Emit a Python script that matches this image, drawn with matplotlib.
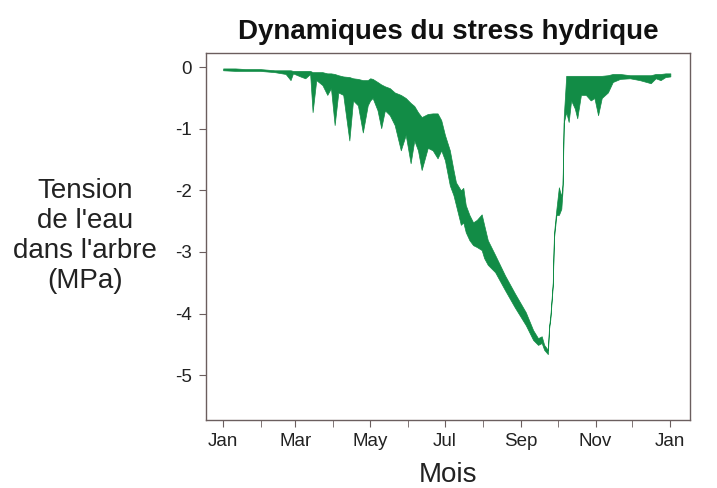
import numpy as np
import matplotlib.pyplot as plt

# day of year, daily max (upper) and min (lower) water tension, MPa
days = [0, 10, 18, 30, 42, 51, 55, 57, 63, 67, 71, 73, 76, 81, 85, 88, 91, 94, 98,
        103, 106, 110, 114, 118, 120, 122, 126, 129, 132, 136, 140, 145, 149, 153,
        156, 159, 162, 167, 171, 175, 178, 181, 185, 188, 190, 194, 196, 198, 201,
        204, 207, 211, 213, 216, 222, 230, 238, 247, 253, 257, 260, 262, 265, 266,
        267, 269, 270, 272, 274, 276, 277, 278, 280, 282, 284, 287, 289, 292, 296,
        300, 303, 306, 309, 314, 318, 324, 332, 340, 349, 353, 357, 361, 365]
upper = [-0.02, -0.02, -0.03, -0.03, -0.05, -0.05, -0.05, -0.06, -0.06, -0.06, -0.06,
         -0.08, -0.08, -0.08, -0.10, -0.10, -0.11, -0.13, -0.15, -0.16, -0.18, -0.19,
         -0.21, -0.21, -0.18, -0.19, -0.24, -0.28, -0.31, -0.34, -0.41, -0.45, -0.50,
         -0.58, -0.63, -0.73, -0.81, -0.76, -0.75, -0.75, -0.86, -1.10, -1.35, -1.67,
         -1.87, -2.00, -1.96, -2.24, -2.40, -2.52, -2.48, -2.39, -2.56, -2.81, -3.05,
         -3.38, -3.67, -3.98, -4.27, -4.40, -4.37, -4.51, -4.59, -4.20, -4.05, -3.50,
         -2.70, -2.30, -1.95, -2.10, -1.90, -0.80, -0.14, -0.14, -0.14, -0.14, -0.14,
         -0.14, -0.14, -0.14, -0.14, -0.14, -0.14, -0.13, -0.11, -0.11, -0.13, -0.13,
         -0.13, -0.11, -0.11, -0.10, -0.10]
lower = [-0.05, -0.06, -0.06, -0.06, -0.08, -0.11, -0.21, -0.10, -0.15, -0.18, -0.11,
         -0.73, -0.21, -0.29, -0.45, -0.34, -0.94, -0.41, -0.45, -1.19, -0.54, -0.62,
         -1.06, -0.62, -0.54, -0.50, -0.70, -0.99, -0.70, -0.78, -0.94, -1.35, -1.10,
         -1.56, -1.19, -1.35, -1.67, -1.31, -1.35, -1.48, -1.35, -1.51, -1.92, -2.08,
         -2.24, -2.56, -2.52, -2.68, -2.81, -2.89, -2.92, -2.97, -3.10, -3.21, -3.33,
         -3.62, -3.90, -4.19, -4.43, -4.51, -4.48, -4.59, -4.66, -4.25, -4.10, -3.56,
         -2.78, -2.40, -2.40, -2.30, -2.00, -0.90, -0.73, -0.89, -0.54, -0.67, -0.83,
         -0.45, -0.45, -0.54, -0.50, -0.78, -0.50, -0.41, -0.24, -0.19, -0.18, -0.21,
         -0.26, -0.18, -0.21, -0.16, -0.15]

month_ticks = [0, 59, 120, 181, 243, 304, 365]
month_labels = ['Jan', 'Mar', 'May', 'Jul', 'Sep', 'Nov', 'Jan']
minor_ticks = [31, 90, 151, 212, 273, 334]
y_ticks = [0, -1, -2, -3, -4, -5]

plt.rcParams['font.family'] = ['Liberation Sans', 'DejaVu Sans']

fig = plt.figure(figsize=(7.17, 4.88), dpi=100)
ax = fig.add_axes([0.2873, 0.1393, 0.675, 0.752])

green = '#128c46'
ax.fill_between(days, lower, upper, color=green, linewidth=0.5, edgecolor=green)

ax.set_xlim(-14, 381)
ax.set_ylim(-5.73, 0.23)
ax.set_xticks(month_ticks)
ax.set_xticklabels(month_labels)
ax.set_xticks(minor_ticks, minor=True)
ax.set_yticks(y_ticks)
ax.set_yticklabels([str(v) for v in y_ticks])

for s in ax.spines.values():
    s.set_color('#6b5e5e')
    s.set_linewidth(1.0)
ax.tick_params(axis='both', which='both', direction='out', length=5,
               color='#6b5e5e', labelsize=13.5, labelcolor='#222222')
ax.tick_params(axis='x', pad=4)
ax.tick_params(axis='y', pad=5)

ax.set_title('Dynamiques du stress hydrique', fontsize=20, fontweight='bold',
             color='#111111', pad=10)
ax.set_xlabel('Mois', fontsize=20, color='#222222', labelpad=9)
fig.text(0.1186, 0.517, "Tension\nde l'eau\ndans l'arbre\n(MPa)", ha='center',
         va='center', fontsize=20, color='#222222', linespacing=1.2)

fig.savefig('out.png', dpi=100, facecolor='white')
